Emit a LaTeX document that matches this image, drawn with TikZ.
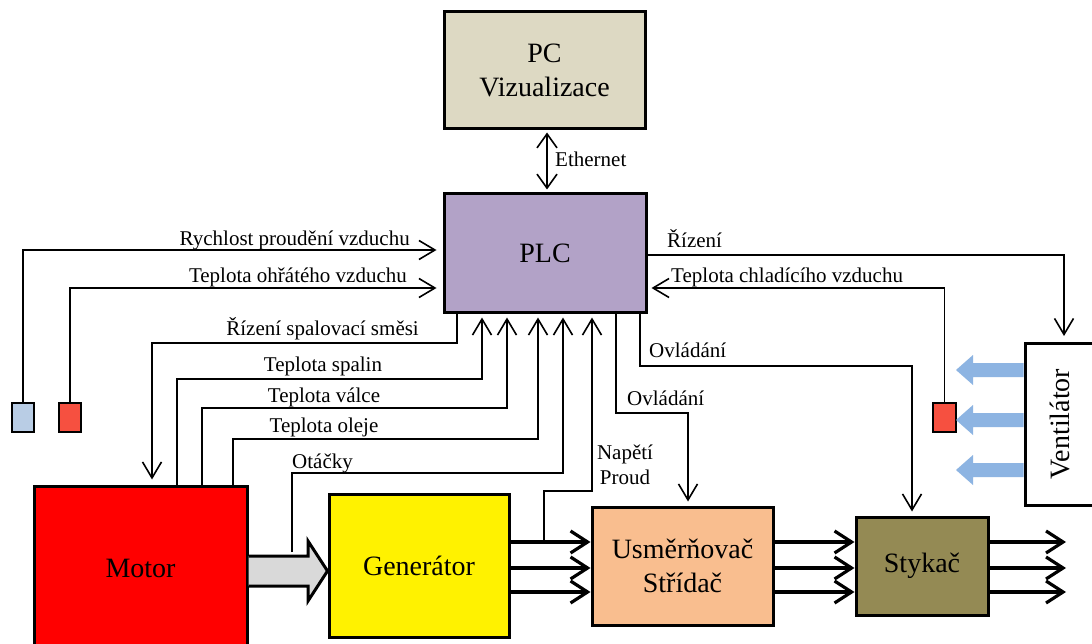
\documentclass[tikz,border=0pt]{standalone}
\usepackage{fontspec}
\setmainfont{Liberation Serif}
\usepackage{graphicx}
\usetikzlibrary{arrows.meta}
\definecolor{pcfill}{HTML}{DDD9C3}
\definecolor{plcfill}{HTML}{B2A2C7}
\definecolor{usmfill}{HTML}{F9BE8F}
\definecolor{stykfill}{HTML}{948A54}
\definecolor{sensred}{HTML}{F65040}
\definecolor{sensblue}{HTML}{B9CDE5}
\definecolor{fanblue}{HTML}{8DB4E2}
\definecolor{shaftgray}{HTML}{D9D9D9}
\begin{document}
\begin{tikzpicture}[x=1pt,y=-1pt,
  box/.style={draw=black, line width=3pt, inner sep=0pt, align=center, font=\fontsize{28}{34}\selectfont},
  sensor/.style={draw=black, line width=2pt, minimum width=22pt, minimum height=29pt, inner sep=0pt},
  sig/.style={line width=1.6pt, -{Straight Barb[length=16pt,width=19pt]}, shorten >=4pt},
  wire/.style={line width=1.6pt},
  pow/.style={line width=3.2pt, -{Straight Barb[length=17pt,width=22pt]}},
  lab/.style={font=\fontsize{21}{25}\selectfont, inner sep=0pt},
  fan/.style={fill=fanblue, draw=none}
]
\fill[white] (0,0) rectangle (1092,644);
\useasboundingbox (0,0) rectangle (1092,644);

% boxes
\node[box, fill=pcfill, minimum width=201pt, minimum height=117pt] (pc) at (544.5,70.5) {PC\\Vizualizace};
\node[box, fill=plcfill, minimum width=202pt, minimum height=118pt] (plc) at (545,253) {PLC};
\node[box, fill=red, minimum width=213pt, minimum height=164pt] (motor) at (140.5,568) {Motor};
\node[box, fill=yellow, minimum width=180pt, minimum height=143pt] (gen) at (419,565.5) {Generátor};
\node[box, fill=usmfill, minimum width=181pt, minimum height=118pt] (usm) at (682.5,566) {Usměrňovač\\Střídač};
\node[box, fill=stykfill, minimum width=132pt, minimum height=98pt] (styk) at (922,566) {Stykač};
\node[box, fill=white, minimum width=70pt, minimum height=162pt] (vent) at (1060,424) {\rotatebox{90}{Ventilátor}};

% sensors
\node[sensor, fill=sensblue] (sb) at (23,417.5) {};
\node[sensor, fill=sensred] (sr1) at (70,417.5) {};
\node[sensor, fill=sensred, minimum width=23pt] (sr2) at (944.5,417.5) {};

% free ends
\coordinate (otk) at (292,552);
\coordinate (nap) at (544,542);
\coordinate (ventin) at (1064,343);
\coordinate (o1) at (1066,542);
\coordinate (o2) at (1066,568);
\coordinate (o3) at (1066,592);

% ethernet
\draw[line width=1.6pt, {Straight Barb[length=14pt,width=20pt]}-{Straight Barb[length=14pt,width=20pt]}, shorten <=2pt, shorten >=3pt]
  (pc.south -| 547,0) -- (plc.north -| 547,0);
\node[lab, anchor=base west] at (555,167) {Ethernet};

% left inputs
\draw[sig, shorten >=6pt] (sb.north) |- (plc.west |- 0,250);
\node[lab, anchor=base east] at (410,246) {Rychlost proudění vzduchu};
\draw[sig, shorten >=6pt] (sr1.north) |- (plc.west |- 0,288);
\node[lab, anchor=base east] at (407,283) {Teplota ohřátého vzduchu};

% motor signals
\draw[sig, shorten >=5pt] (plc.south -| 457,0) -- (457,343) -| (motor.north -| 152,0);
\node[lab, anchor=base east] at (419,335) {Řízení spalovací směsi};
\draw[sig] (motor.north -| 177,0) -- (177,379) -| (plc.south -| 482,0);
\node[lab, anchor=base] at (323,371) {Teplota spalin};
\draw[sig] (motor.north -| 202,0) -- (202,408) -| (plc.south -| 507,0);
\node[lab, anchor=base] at (324,402) {Teplota válce};
\draw[sig] (motor.north -| 233,0) -- (233,439) -| (plc.south -| 538,0);
\node[lab, anchor=base] at (324,432) {Teplota oleje};
\draw[sig] (otk) -- (292,473) -| (plc.south -| 563,0);
\node[lab, anchor=base west] at (292,468) {Otáčky};
\draw[sig] (nap) -- (544,491) -| (plc.south -| 592,0);
\node[lab, anchor=base] at (625,459) {Napětí};
\node[lab, anchor=base] at (625,484) {Proud};

% control outputs
\draw[sig] (plc.south -| 616,0) -- (616,413) -| (usm.north -| 688,0);
\node[lab, anchor=base west] at (627,405) {Ovládání};
\draw[sig] (plc.south -| 640,0) -- (640,366) -| (styk.north -| 912,0);
\node[lab, anchor=base west] at (649,357) {Ovládání};
\draw[sig, shorten >=7pt] (plc.east |- 0,255) -| (ventin);
\node[lab, anchor=base west] at (667,248) {Řízení};
\draw[sig] (sr2.north) |- (plc.east |- 0,288);
\node[lab, anchor=base west] at (671,283) {Teplota chladícího vzduchu};

% fan arrows
\foreach \c in {370,420,470}{
  \fill[fan] (vent.west |- 0,\c-7) -- (973,\c-7) -- (973,\c-15) -- (956,\c) -- (973,\c+15) -- (973,\c+7) -- (vent.west |- 0,\c+7) -- cycle;
}

% shaft arrow
\fill[shaftgray] (motor.east |- 0,556) -- (308,556) -- (308,541) -- (gen.west |- 0,571) -- (308,601) -- (308,586) -- (motor.east |- 0,586) -- cycle;
\draw[line width=3pt, line join=miter] (motor.east |- 0,556) -- (308,556) -- (308,541) -- (gen.west |- 0,571) -- (308,601) -- (308,586) -- (motor.east |- 0,586);

% power lines
\foreach \yy in {542,568,592}{
  \draw[pow] (gen.east |- 0,\yy) -- (usm.west |- 0,\yy);
  \draw[pow] (usm.east |- 0,\yy) -- (styk.west |- 0,\yy);
}
\draw[pow] (styk.east |- o1) -- (o1);
\draw[pow] (styk.east |- o2) -- (o2);
\draw[pow] (styk.east |- o3) -- (o3);
\end{tikzpicture}
\end{document}
